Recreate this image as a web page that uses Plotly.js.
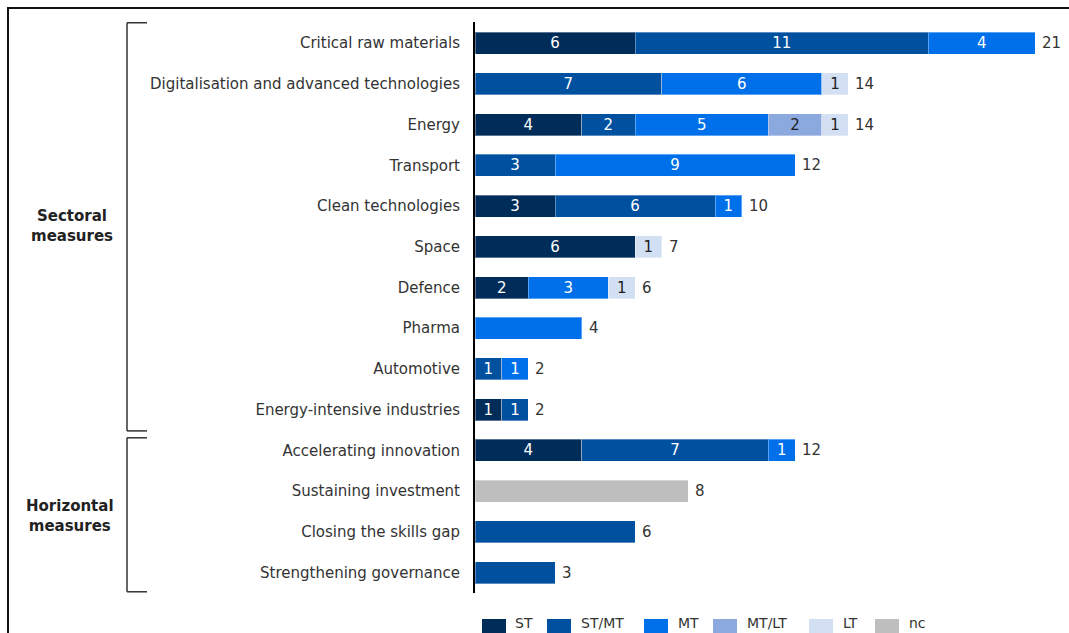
<!DOCTYPE html>
<html>
<head>
<meta charset="utf-8">
<script src="https://cdn.plot.ly/plotly-3.0.1.min.js"></script>
<style>
  html, body { margin: 0; padding: 0; background: #fff; }
  #chart { width: 1069px; height: 633px; }
</style>
</head>
<body>
<div id="chart"></div>
<script>
// ---- Data ----
const categories = [
  "Critical raw materials",
  "Digitalisation and advanced technologies",
  "Energy",
  "Transport",
  "Clean technologies",
  "Space",
  "Defence",
  "Pharma",
  "Automotive",
  "Energy-intensive industries",
  "Accelerating innovation",
  "Sustaining investment",
  "Closing the skills gap",
  "Strengthening governance"
];
const seriesNames = ["ST", "ST/MT", "MT", "MT/LT", "LT", "nc"];
const ST    = [6, 0, 4, 0, 3, 6, 2, 0, 0, 1, 4, 0, 0, 0];
const ST_MT = [11, 7, 2, 3, 6, 0, 0, 0, 1, 1, 7, 0, 6, 3];
const MT    = [4, 6, 5, 9, 1, 0, 3, 4, 1, 0, 1, 0, 0, 0];
const MT_LT = [0, 0, 2, 0, 0, 0, 0, 0, 0, 0, 0, 0, 0, 0];
const LT    = [0, 1, 1, 0, 0, 1, 1, 0, 0, 0, 0, 0, 0, 0];
const NC    = [0, 0, 0, 0, 0, 0, 0, 0, 0, 0, 0, 8, 0, 0];
const seriesValues = [ST, ST_MT, MT, MT_LT, LT, NC];
const groupLabels = ["Sectoral<br>measures", "Horizontal<br>measures"];

// ---- Styles ----
const colors = ["#002c5a", "#0050a0", "#0070ea", "#8ba8df", "#d3dff2", "#bebebe"];
const textColors = ["#ffffff", "#ffffff", "#ffffff", "#222222", "#222222", "#222222"];
const FONT = "DejaVu Sans, Verdana, sans-serif";
const FS = 15;

const totals = categories.map((c, i) => seriesValues.reduce((s, arr) => s + arr[i], 0));
const nSeg = categories.map((c, i) => seriesValues.filter(arr => arr[i] > 0).length);

const traces = seriesNames.map((name, k) => {
  const vals = seriesValues[k].map(v => v > 0 ? v : null);
  const txt = seriesValues[k].map((v, i) => (v > 0 && nSeg[i] > 1) ? String(v) : "");
  return {
    type: "bar",
    orientation: "h",
    name: name,
    y: categories,
    x: vals,
    text: txt,
    textposition: "inside",
    insidetextanchor: "middle",
    textangle: 0,
    constraintext: "none",
    textfont: { family: FONT, size: FS, color: textColors[k] },
    marker: { color: colors[k], line: { color: "rgba(255,255,255,0.35)", width: 1 } },
    hoverinfo: "x+y+name",
    showlegend: false,
    cliponaxis: false
  };
});

// ---- Layout geometry ----
const L = 475, R = 8, T = 22, B = 40, W = 1069, H = 633;
const plotW = W - L - R;
const px2paperX = px => (px - L) / plotW;
const plotH = H - T - B;
const px2paperY = py => 1 - (py - T) / plotH;

const annotations = [];
// totals at bar ends
categories.forEach((c, i) => {
  annotations.push({
    x: totals[i], y: c, xref: "x", yref: "y",
    text: String(totals[i]), showarrow: false,
    xanchor: "left", xshift: 5,
    font: { family: FONT, size: FS, color: "#333333" }
  });
});
// group labels
annotations.push({
  xref: "paper", yref: "y", x: px2paperX(72), y: 4.5,
  text: "<b>" + groupLabels[0] + "</b>", showarrow: false,
  xanchor: "center", yanchor: "middle", align: "center",
  font: { family: FONT, size: FS, color: "#222222" }
});
annotations.push({
  xref: "paper", yref: "y", x: px2paperX(70), y: 11.6,
  text: "<b>" + groupLabels[1] + "</b>", showarrow: false,
  xanchor: "center", yanchor: "middle", align: "center",
  font: { family: FONT, size: FS, color: "#222222" }
});

const shapes = [];
const br = { x0: px2paperX(127), x1: px2paperX(147) };
function bracket(y0, y1) {
  const line = { color: "#333333", width: 1.5 };
  shapes.push({ type: "line", xref: "paper", yref: "y", x0: br.x0, x1: br.x0, y0: y0, y1: y1, line });
  shapes.push({ type: "line", xref: "paper", yref: "y", x0: br.x0, x1: br.x1, y0: y0, y1: y0, line });
  shapes.push({ type: "line", xref: "paper", yref: "y", x0: br.x0, x1: br.x1, y0: y1, y1: y1, line });
}
bracket(-0.5, 9.52);
bracket(9.69, 13.47);

// frame
shapes.push({
  type: "rect", xref: "paper", yref: "paper",
  x0: px2paperX(8), x1: px2paperX(1080),
  y0: px2paperY(645), y1: px2paperY(8),
  line: { color: "#111111", width: 2 }, fillcolor: "rgba(0,0,0,0)", layer: "below"
});

// custom legend
const legX = [482, 547, 644, 713, 809, 875];
const legTextX = [513, 579, 676, 745, 841, 907];
seriesNames.forEach((name, k) => {
  shapes.push({
    type: "rect", xref: "paper", yref: "paper",
    x0: px2paperX(legX[k]), x1: px2paperX(legX[k] + 24),
    y0: px2paperY(634), y1: px2paperY(619),
    line: { width: 0 }, fillcolor: colors[k]
  });
  annotations.push({
    xref: "paper", yref: "paper",
    x: px2paperX(legTextX[k]), y: px2paperY(623),
    text: name, showarrow: false, xanchor: "left", yanchor: "middle",
    font: { family: FONT, size: 14, color: "#333333" }
  });
});

const layout = {
  width: W, height: H,
  margin: { l: L, r: R, t: T, b: B, pad: 0 },
  barmode: "stack",
  bargap: 0.46,
  paper_bgcolor: "#ffffff",
  plot_bgcolor: "#ffffff",
  showlegend: false,
  font: { family: FONT, size: FS, color: "#333333" },
  xaxis: {
    range: [0, plotW / 26.67],
    visible: false,
    showgrid: false, zeroline: false
  },
  yaxis: {
    type: "category",
    categoryorder: "array",
    categoryarray: categories,
    autorange: "reversed",
    showline: true, linecolor: "#000000", linewidth: 2,
    showgrid: false, zeroline: false,
    ticks: "", ticklen: 0,
    tickfont: { family: FONT, size: FS, color: "#333333" },
    ticklabelstandoff: 10
  },
  annotations: annotations,
  shapes: shapes
};

Plotly.newPlot("chart", traces, layout, { displayModeBar: false, staticPlot: true });
</script>
</body>
</html>
